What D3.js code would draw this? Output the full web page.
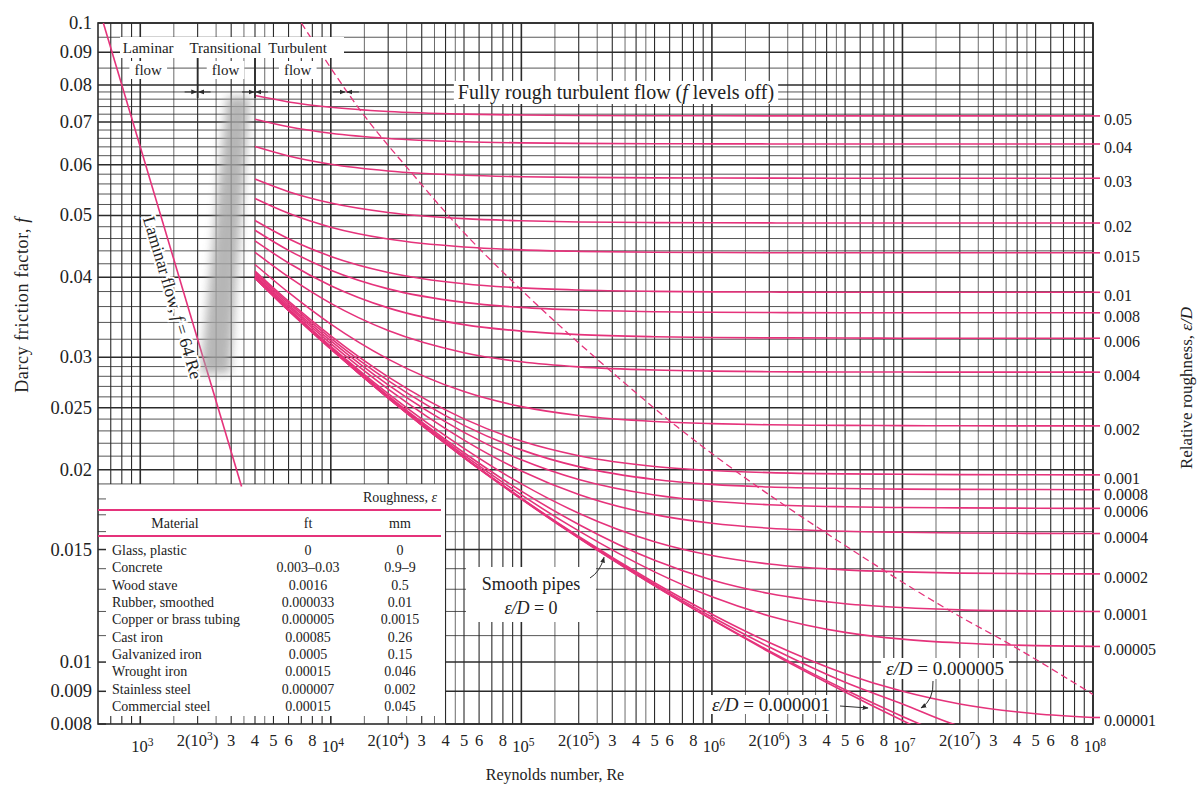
<!DOCTYPE html>
<html>
<head>
<meta charset="utf-8">
<script src="https://cdn.jsdelivr.net/npm/d3@7"></script>
<style>
body { margin: 0; background: #fff; }
text { font-family: "Liberation Serif", "DejaVu Serif", serif; fill: #222; }
</style>
</head>
<body>
<div id="vis"></div>
<script>
// chart size
var width = 1202;
var height = 791;

var reGrid = [4e3, 6e3, 1e4, 2e4, 5e4, 1e5, 2e5, 5e5, 1e6, 2e6, 5e6, 1e7, 2e7, 5e7, 1e8];

// friction factor f for each relative roughness (same order as reGrid)
var f_05 = [0.0770, 0.07525, 0.0738, 0.07269, 0.07201, 0.07178, 0.07167, 0.0716, 0.07158, 0.07157, 0.07156, 0.07155, 0.07155, 0.07155, 0.07155];
var f_04 = [0.0707, 0.06881, 0.0672, 0.06595, 0.06519, 0.06493, 0.0648, 0.06472, 0.0647, 0.06468, 0.06467, 0.06467, 0.06467, 0.06467, 0.06467];
var f_03 = [0.06407, 0.06193, 0.06011, 0.05868, 0.05778, 0.05748, 0.05733, 0.05723, 0.0572, 0.05718, 0.05717, 0.05717, 0.05717, 0.05717, 0.05717];
var f_02 = [0.05698, 0.05445, 0.05227, 0.05052, 0.04941, 0.04903, 0.04883, 0.04872, 0.04868, 0.04866, 0.04865, 0.04864, 0.04864, 0.04864, 0.04864];
var f_015 = [0.05314, 0.05038, 0.04792, 0.04591, 0.04461, 0.04415, 0.04392, 0.04378, 0.04374, 0.04371, 0.0437, 0.04369, 0.04369, 0.04369, 0.04369];
var f_01 = [0.04909, 0.04596, 0.04313, 0.04071, 0.03908, 0.0385, 0.03821, 0.03803, 0.03796, 0.03793, 0.03791, 0.0379, 0.0379, 0.0379, 0.0379];
var f_008 = [0.04739, 0.04408, 0.04104, 0.03837, 0.03655, 0.03589, 0.03555, 0.03534, 0.03527, 0.03523, 0.03521, 0.0352, 0.0352, 0.0352, 0.0352];
var f_006 = [0.04561, 0.04212, 0.03881, 0.03583, 0.03373, 0.03295, 0.03254, 0.03229, 0.0322, 0.03216, 0.03214, 0.03212, 0.03212, 0.03212, 0.03212];
var f_004 = [0.04378, 0.04005, 0.03641, 0.03302, 0.03049, 0.0295, 0.02897, 0.02864, 0.02853, 0.02847, 0.02844, 0.02843, 0.02842, 0.02842, 0.02842];
var f_002 = [0.04189, 0.03787, 0.03379, 0.02979, 0.0265, 0.0251, 0.02431, 0.02379, 0.02361, 0.02351, 0.02346, 0.02344, 0.02343, 0.02342, 0.02342];
var f_001 = [0.04093, 0.0367, 0.03239, 0.02794, 0.02402, 0.02217, 0.02103, 0.02023, 0.01994, 0.01979, 0.0197, 0.01967, 0.01965, 0.01964, 0.01963];
var f_0008 = [0.04072, 0.03647, 0.0321, 0.02756, 0.02346, 0.02148, 0.02022, 0.01931, 0.01897, 0.01879, 0.01869, 0.01865, 0.01863, 0.01862, 0.01861];
var f_0006 = [0.04052, 0.03621, 0.0318, 0.02714, 0.02288, 0.02073, 0.01931, 0.01826, 0.01785, 0.01763, 0.0175, 0.01745, 0.01743, 0.01741, 0.0174];
var f_0004 = [0.04031, 0.03598, 0.03149, 0.02673, 0.02225, 0.01991, 0.01829, 0.01701, 0.01649, 0.0162, 0.01602, 0.01596, 0.01592, 0.0159, 0.01589];
var f_0002 = [0.0401, 0.03575, 0.03119, 0.0263, 0.02159, 0.019, 0.0171, 0.01543, 0.01468, 0.01424, 0.01394, 0.01384, 0.01378, 0.01375, 0.01374];
var f_0001 = [0.04001, 0.03563, 0.03104, 0.0261, 0.02126, 0.01851, 0.01642, 0.01443, 0.01344, 0.0128, 0.01234, 0.01217, 0.01207, 0.01202, 0.012];
var f_00005 = [0.03995, 0.03556, 0.03096, 0.02599, 0.02107, 0.01826, 0.01604, 0.01384, 0.01265, 0.01181, 0.01113, 0.01086, 0.01071, 0.01061, 0.01058];
var f_00001 = [0.03992, 0.0355, 0.0309, 0.02591, 0.02093, 0.01805, 0.01572, 0.01331, 0.01188, 0.01073, 0.00959, 0.009, 0.0086, 0.0083, 0.00819];
var f_000005 = [0.0399, 0.0355, 0.0309, 0.0259, 0.0209, 0.01802, 0.01568, 0.01323, 0.01176, 0.01056, 0.0093, 0.0086, 0.00794, 0.00765, null];
var f_000001 = [0.0399, 0.03549, 0.0309, 0.02589, 0.02089, 0.018, 0.01564, 0.01317, 0.01167, 0.01041, 0.00905, 0.00822, 0.00753, null, null];
var f_smooth = [0.0399, 0.03549, 0.0309, 0.02589, 0.02088, 0.01799, 0.01563, 0.01316, 0.01165, 0.01037, 0.00898, 0.0081, 0.00734, null, null];

var roughLabels = ['0.05', '0.04', '0.03', '0.02', '0.015', '0.01', '0.008', '0.006', '0.004',
    '0.002', '0.001', '0.0008', '0.0006', '0.0004', '0.0002', '0.0001', '0.00005', '0.00001'];
var roughSeries = [f_05, f_04, f_03, f_02, f_015, f_01, f_008, f_006, f_004,
    f_002, f_001, f_0008, f_0006, f_0004, f_0002, f_0001, f_00005, f_00001];
var unlabelledSeries = [f_000005, f_000001, f_smooth];

// laminar line f = 64/Re
var laminarRe = [640, 3400];
var laminarF = [0.1, 0.01882];

// dashed boundary of the fully rough zone
var dashRe = [7000, 1.5e4, 2.8e4, 4.5e4, 1.03e5, 3.0e5, 6.5e5, 1.43e6, 4.0e6, 1.8e7, 3.9e7, 1e8];
var dashF = [0.1, 0.0716, 0.0572, 0.0486, 0.0379, 0.0284, 0.0234, 0.0196, 0.0159, 0.012, 0.01055, 0.0089];

// axis ticks
var fTicks = [0.1, 0.09, 0.08, 0.07, 0.06, 0.05, 0.04, 0.03, 0.025, 0.02, 0.015, 0.01, 0.009, 0.008];
var fTickText = ['0.1', '0.09', '0.08', '0.07', '0.06', '0.05', '0.04', '0.03', '0.025', '0.02', '0.015', '0.01', '0.009', '0.008'];
var reTicks = [1e3, 2e3, 3e3, 4e3, 5e3, 6e3, 8e3, 1e4, 2e4, 3e4, 4e4, 5e4, 6e4, 8e4,
    1e5, 2e5, 3e5, 4e5, 5e5, 6e5, 8e5, 1e6, 2e6, 3e6, 4e6, 5e6, 6e6, 8e6,
    1e7, 2e7, 3e7, 4e7, 5e7, 6e7, 8e7, 1e8];
var reTickText = ['10^3', '2(10^3)', '3', '4', '5', '6', '8', '10^4', '2(10^4)', '3', '4', '5', '6', '8',
    '10^5', '2(10^5)', '3', '4', '5', '6', '8', '10^6', '2(10^6)', '3', '4', '5', '6', '8',
    '10^7', '2(10^7)', '3', '4', '5', '6', '8', '10^8'];

// roughness table
var materials = ['Glass, plastic', 'Concrete', 'Wood stave', 'Rubber, smoothed', 'Copper or brass tubing',
    'Cast iron', 'Galvanized iron', 'Wrought iron', 'Stainless steel', 'Commercial steel'];
var roughFt = ['0', '0.003\u20130.03', '0.0016', '0.000033', '0.000005', '0.00085', '0.0005', '0.00015', '0.000007', '0.00015'];
var roughMm = ['0', '0.9\u20139', '0.5', '0.01', '0.0015', '0.26', '0.15', '0.046', '0.002', '0.045'];

var pink = '#e5337b';
var ink = '#2b2b2b';

var x = d3.scaleLog().domain([600, 1e8]).range([98, 1093]);
var y = d3.scaleLog().domain([0.008, 0.1]).range([724, 23]);

var svg = d3.select('#vis')
    .append('svg')
    .attr('width', width)
    .attr('height', height);

svg.append('rect').attr('width', width).attr('height', height).attr('fill', '#fff');

var defs = svg.append('defs');
defs.append('clipPath').attr('id', 'plot')
    .append('rect').attr('x', 98).attr('y', 23).attr('width', 995).attr('height', 701);
defs.append('filter').attr('id', 'blur')
    .attr('x', '-60%').attr('y', '-20%').attr('width', '220%').attr('height', '140%')
    .append('feGaussianBlur').attr('stdDeviation', 5);
defs.append('marker').attr('id', 'arr')
    .attr('viewBox', '0 0 10 10').attr('refX', 9).attr('refY', 5)
    .attr('markerWidth', 6).attr('markerHeight', 6).attr('orient', 'auto')
    .append('path').attr('d', 'M0,1L10,5L0,9z').attr('fill', ink);

// grid
var gridMult = [1, 1.5, 2, 2.5, 3, 3.5, 4, 4.5, 5, 6, 7, 8, 9];
var reLines = [];
for (var p = 2; p <= 8; p++) {
    gridMult.forEach(function(m) {
        var v = m * Math.pow(10, p);
        if (v > 600 && v <= 1e8) reLines.push({v: v, m: m});
    });
}
var fLines = [];
for (var i = 8; i <= 30; i++) fLines.push(i / 1000);
for (var i = 32; i <= 80; i += 2) fLines.push(i / 1000);
fLines.push(0.085, 0.09, 0.095, 0.1);

var grid = svg.append('g').attr('stroke', ink);
reLines.forEach(function(d) {
    var w = d.m === 1 ? 1.6 : (d.m % 1 === 0 ? 1.1 : 0.7);
    var xx = x(d.v);
    if (d.v < 4e4 - 1) {
        grid.append('line').attr('x1', xx).attr('x2', xx).attr('y1', y(0.1)).attr('y2', y(0.019)).attr('stroke-width', w);
        grid.append('line').attr('x1', xx).attr('x2', xx).attr('y1', y(0.008)).attr('y2', y(0.008) - 8).attr('stroke-width', w);
    } else {
        grid.append('line').attr('x1', xx).attr('x2', xx).attr('y1', y(0.1)).attr('y2', y(0.008)).attr('stroke-width', w);
    }
});
fLines.forEach(function(f) {
    var major = fTicks.some(function(t) { return Math.abs(t - f) < 1e-7; });
    var w = major ? 1.5 : 0.8;
    var yy = y(f);
    if (f < 0.019 - 1e-7) {
        grid.append('line').attr('x1', x(4e4)).attr('x2', x(1e8)).attr('y1', yy).attr('y2', yy).attr('stroke-width', w);
        grid.append('line').attr('x1', x(600)).attr('x2', x(600) + 8).attr('y1', yy).attr('y2', yy).attr('stroke-width', w);
    } else {
        grid.append('line').attr('x1', x(600)).attr('x2', x(1e8)).attr('y1', yy).attr('y2', yy).attr('stroke-width', w);
    }
});

svg.append('rect')
    .attr('x', x(600)).attr('y', y(0.1))
    .attr('width', x(1e8) - x(600)).attr('height', y(0.008) - y(0.1))
    .attr('fill', 'none').attr('stroke', ink).attr('stroke-width', 1.6);

// curves
var line = d3.line()
    .defined(function(d) { return d[1] != null; })
    .x(function(d) { return x(d[0]); })
    .y(function(d) { return y(d[1]); })
    .curve(d3.curveMonotoneX);

var curves = svg.append('g').attr('clip-path', 'url(#plot)')
    .attr('fill', 'none').attr('stroke', pink).attr('stroke-width', 1.6);

roughSeries.concat(unlabelledSeries).forEach(function(fs) {
    var pts = reGrid.map(function(r, i) { return [r, fs[i]]; }).filter(function(d) { return d[1] != null; });
    curves.append('path').attr('d', line(pts));
});

curves.append('path')
    .attr('d', line(laminarRe.map(function(r, i) { return [r, laminarF[i]]; })))
    .attr('stroke-width', 1.6);

curves.append('path')
    .attr('d', line(dashRe.map(function(r, i) { return [r, dashF[i]]; })))
    .attr('stroke-dasharray', '7,4').attr('stroke-width', 1.3);

// stubs past the right frame
roughSeries.forEach(function(fs) {
    var yy = y(fs[fs.length - 1]);
    svg.append('line').attr('x1', x(1e8)).attr('x2', x(1e8) + 7)
        .attr('y1', yy).attr('y2', yy).attr('stroke', pink).attr('stroke-width', 1.6);
});

// smudge over the transition zone
var smudge = [[2850, 0.0765], [3750, 0.0765], [2950, 0.0283], [2080, 0.0283]];
svg.append('polygon')
    .attr('points', smudge.map(function(d) { return x(d[0]) + ',' + y(d[1]); }).join(' '))
    .attr('fill', '#a4a4a4').attr('opacity', 0.8).attr('filter', 'url(#blur)');

// text helpers
function addText(g, tx, ty, parts, size, anchor, pad) {
    var t = g.append('text').attr('x', tx).attr('y', ty)
        .attr('font-size', size).attr('text-anchor', anchor || 'middle');
    parts.forEach(function(p) {
        t.append('tspan').attr('font-style', p[1] ? 'italic' : null).text(p[0]);
    });
    if (pad) {
        var b = t.node().getBBox();
        g.insert('rect', function() { return t.node(); })
            .attr('x', b.x - pad[0]).attr('y', b.y - pad[1])
            .attr('width', b.width + 2 * pad[0]).attr('height', b.height + 2 * pad[1])
            .attr('fill', '#fff');
    }
    return t;
}

function powText(t, s) {
    var m = s.split('^');
    if (m.length === 1) { t.text(s); return; }
    t.append('tspan').text(m[0]);
    t.append('tspan').attr('dy', -6).attr('font-size', '70%').text(m[1].charAt(0));
    if (m[1].length > 1) t.append('tspan').attr('dy', 6).text(m[1].slice(1));
}

var ann = svg.append('g');

// left axis
fTicks.forEach(function(f, i) {
    ann.append('text').attr('x', 92).attr('y', y(f) + 6)
        .attr('text-anchor', 'end').attr('font-size', 18.5).text(fTickText[i]);
});

// bottom axis
reTicks.forEach(function(r, i) {
    var s = reTickText[i];
    var pow = s.indexOf('10^') === 0;
    var t = ann.append('text')
        .attr('x', x(r) + (pow ? 2 : 0))
        .attr('y', pow ? 752 : 746)
        .attr('text-anchor', 'middle').attr('font-size', 16.5);
    powText(t, s);
});

// right labels
var lastY = -100;
roughSeries.forEach(function(fs, i) {
    var yy = y(fs[fs.length - 1]) + 4;
    if (yy < lastY + 16) yy = lastY + 16;
    lastY = yy;
    ann.append('text').attr('x', 1104).attr('y', yy + 5)
        .attr('font-size', 16).text(roughLabels[i]);
});

// axis titles
ann.append('text').attr('transform', 'translate(28,305) rotate(-90)')
    .attr('text-anchor', 'middle').attr('font-size', 18).attr('letter-spacing', 0.6)
    .call(function(t) {
        t.append('tspan').text('Darcy friction factor, ');
        t.append('tspan').attr('font-style', 'italic').text('f');
    });
ann.append('text').attr('transform', 'translate(1192,388) rotate(-90)')
    .attr('text-anchor', 'middle').attr('font-size', 17)
    .call(function(t) {
        t.append('tspan').text('Relative roughness, ');
        t.append('tspan').attr('font-style', 'italic').text('\u03b5/D');
    });
ann.append('text').attr('x', 555).attr('y', 780).attr('text-anchor', 'middle')
    .attr('font-size', 16).text('Reynolds number, Re');

// flow regime labels
var top1 = ann.append('g');
top1.append('rect').attr('x', 120).attr('y', 37).attr('width', 224).attr('height', 21).attr('fill', '#fff');
[['Laminar', 1100], ['Transitional', 2800], ['Turbulent', 6700]].forEach(function(d) {
    addText(top1, x(d[1]), 53, [[d[0]]], 15, 'middle', null);
    addText(top1, x(d[1]), 75, [['flow']], 15, 'middle', [5, 1]);
});
[2000, 4000].forEach(function(r) {
    ann.append('line').attr('x1', x(r)).attr('x2', x(r)).attr('y1', 58).attr('y2', 98)
        .attr('stroke', ink).attr('stroke-width', 1.8);
});
[x(2000), x(4000), x(1.2e4)].forEach(function(xx) {
    ann.append('line').attr('x1', xx - 13).attr('x2', xx - 1).attr('y1', y(0.078)).attr('y2', y(0.078))
        .attr('stroke', ink).attr('stroke-width', 1).attr('marker-end', 'url(#arr)');
    ann.append('line').attr('x1', xx + 13).attr('x2', xx + 1).attr('y1', y(0.078)).attr('y2', y(0.078))
        .attr('stroke', ink).attr('stroke-width', 1).attr('marker-end', 'url(#arr)');
});

addText(ann, 616, 99, [['Fully rough turbulent flow ('], ['f', 1], [' levels off)']], 20, 'middle', [4, 0]);

// laminar label along the line
var lamAngle = Math.atan2(y(0.01) - y(0.1), x(6400) - x(640)) * 180 / Math.PI;
ann.append('text')
    .attr('transform', 'translate(' + x(1700) + ',' + y(64 / 1700) + ') rotate(' + lamAngle + ')')
    .attr('y', 18).attr('text-anchor', 'middle').attr('font-size', 17.5)
    .attr('stroke', '#fff').attr('stroke-width', 4).attr('paint-order', 'stroke')
    .call(function(t) {
        t.append('tspan').text('Laminar flow, ');
        t.append('tspan').attr('font-style', 'italic').text('f');
        t.append('tspan').text(' = 64/Re');
    });

// curve annotations
var sp = ann.append('g');
sp.append('rect').attr('x', 466).attr('y', 567).attr('width', 130).attr('height', 55).attr('fill', '#fff');
addText(sp, 531, 590, [['Smooth pipes']], 18, 'middle', null);
addText(sp, 531, 614, [['\u03b5/D', 1], [' = 0']], 18, 'middle', null);
sp.append('path').attr('d', 'M590,578 Q600,572 604,' + (y(0.0148) + 4))
    .attr('fill', 'none').attr('stroke', ink).attr('stroke-width', 1).attr('marker-end', 'url(#arr)');

addText(ann, 945, 675, [['\u03b5/D', 1], [' = 0.000005']], 19, 'middle', [5, 0]);
ann.append('path').attr('d', 'M933,681 Q934,700 921,708')
    .attr('fill', 'none').attr('stroke', ink).attr('stroke-width', 1).attr('marker-end', 'url(#arr)');

addText(ann, 771, 711, [['\u03b5/D', 1], [' = 0.000001']], 19, 'middle', [4, -1]);
ann.append('line').attr('x1', 840).attr('x2', 868).attr('y1', 706).attr('y2', 708)
    .attr('stroke', ink).attr('stroke-width', 1).attr('marker-end', 'url(#arr)');

// roughness table
var tb = svg.append('g');
addText(tb, 437, 502, [['Roughness, '], ['\u03b5', 1]], 14, 'end', null);
tb.append('line').attr('x1', x(600)).attr('x2', 441).attr('y1', 510).attr('y2', 510).attr('stroke', pink).attr('stroke-width', 2);
tb.append('line').attr('x1', x(600)).attr('x2', 441).attr('y1', 536).attr('y2', 536).attr('stroke', pink).attr('stroke-width', 2);
addText(tb, 175, 528, [['Material']], 14, 'middle', null);
addText(tb, 308, 528, [['ft']], 14, 'middle', null);
addText(tb, 400, 528, [['mm']], 14, 'middle', null);
materials.forEach(function(m, i) {
    var yy = 555 + i * 17.35;
    addText(tb, 112, yy, [[m]], 14, 'start', null);
    addText(tb, 308, yy, [[roughFt[i]]], 14, 'middle', null);
    addText(tb, 400, yy, [[roughMm[i]]], 14, 'middle', null);
});
</script>
</body>
</html>
